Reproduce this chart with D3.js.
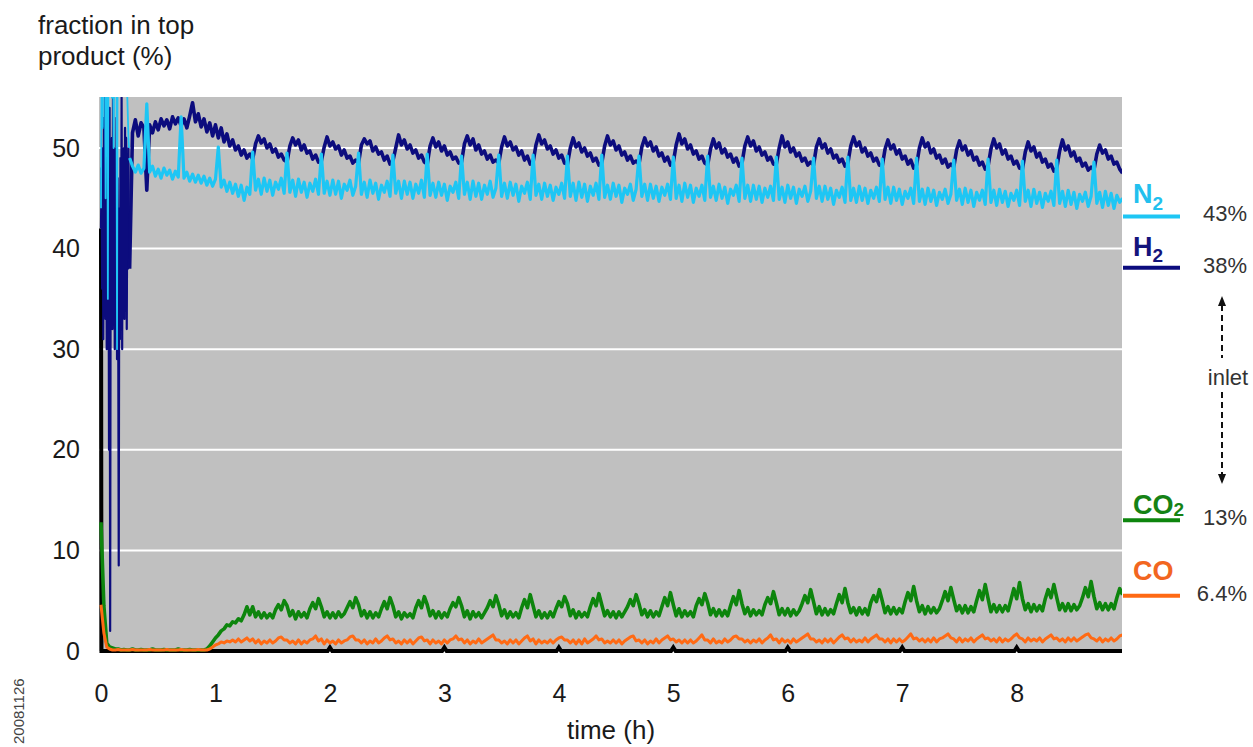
<!DOCTYPE html>
<html>
<head>
<meta charset="utf-8">
<script src="https://d3js.org/d3.v7.min.js"></script>
<style>
    body { margin: 0; background: #fff; }
    svg { display: block; font-family: "Liberation Sans", Arial, sans-serif; }
</style>
</head>
<body>
<script>
    // logger sampling step (hours); the start-up burst was logged faster
    var step = 0.025;
    var burstStep = 0.005;
    var burstEnd = 0.25;

    // H2 and N2 during the start-up burst (0 - 0.245 h)
    var h2Burst = [
        42, 48, 36, 50, 31, 53, 40, 55, 33, 47,
        30, 52, 38, 49, 20, 54, 2, 46, 35, 51,
        32, 56, 37, 50, 30, 48, 34, 53, 29, 47,
        36, 8.5, 44, 31, 49, 35, 55, 30, 48, 38,
        50, 33, 52, 36, 51, 32, 48, 38, 50, 40
    ];
    var n2Burst = [
        44, 58, 60, 52, 61, 57, 60, 59, 45, 60,
        58, 61, 35, 60, 59, 57, 61, 58, 60, 55,
        59, 61, 50, 60, 58, 57, 61, 59, 30, 60,
        58, 61, 59, 60, 57, 61, 58, 59, 60, 56,
        61, 58, 60, 57, 59, 56, 55, 53, 51, 50
    ];

    // H2 in top product (%), from 0.25 h on
    var h2 = [
        38, 51.5, 52.8, 51.2, 52.5, 52.0, 45.8, 52.3, 51.5, 52.6,
        51.8, 52.9, 52.2, 52.8, 51.9, 53.1, 52.4, 53.0, 52.2, 52.9,
        52.0, 53.2, 54.5, 52.6, 53.4, 52.1, 52.9, 51.6, 52.5, 51.2,
        52.3, 51.0, 52.0, 50.6, 51.4, 50.2, 50.8, 49.8, 50.2, 49.3,
        49.8, 49.0, 49.4,
        48.9, 50.4, 51.2, 50.5, 50.9, 50.0, 50.4, 49.6, 49.9, 49.1, 49.4, 48.8,
        48.6, 50.2, 51.0, 50.3, 50.8, 49.8, 50.3, 49.5, 49.7, 48.9, 49.3, 48.6,
        48.7, 50.1, 51.1, 50.2, 50.6, 49.9, 50.2, 49.3, 49.8, 49.0, 49.2, 48.5, 48.8,
        48.5, 50.3, 50.9, 50.4, 50.7, 49.7, 50.1, 49.4, 49.6, 48.8, 49.2, 48.4,
        48.7, 50.0, 51.3, 50.3, 50.8, 49.9, 50.3, 49.5, 49.8, 49.0, 49.3, 48.6,
        48.4, 50.2, 51.0, 50.1, 50.6, 49.7, 50.2, 49.3, 49.6, 48.9, 49.1, 48.5,
        48.6, 50.4, 51.2, 50.3, 50.9, 49.8, 50.3, 49.4, 49.7, 48.9, 49.3, 48.6, 48.8,
        48.5, 50.1, 51.1, 50.2, 50.6, 49.8, 50.1, 49.3, 49.7, 48.8, 49.2, 48.4,
        48.6, 50.3, 51.3, 50.4, 50.8, 49.9, 50.2, 49.4, 49.8, 49.0, 49.3, 48.5,
        48.4, 50.0, 51.0, 50.1, 50.5, 49.6, 50.0, 49.2, 49.5, 48.7, 49.0, 48.3,
        48.5, 50.2, 51.2, 50.3, 50.7, 49.8, 50.2, 49.3, 49.6, 48.8, 49.2, 48.5, 48.7,
        48.4, 50.1, 51.0, 50.2, 50.6, 49.7, 50.1, 49.2, 49.5, 48.7, 49.1, 48.3,
        48.6, 50.3, 51.4, 50.4, 50.9, 49.9, 50.3, 49.4, 49.7, 48.9, 49.2, 48.5,
        48.3, 49.9, 50.9, 50.0, 50.5, 49.5, 49.9, 49.1, 49.4, 48.6, 49.0, 48.2,
        48.5, 50.2, 51.1, 50.2, 50.7, 49.7, 50.1, 49.3, 49.6, 48.8, 49.1, 48.4,
        48.4, 50.0, 51.2, 50.1, 50.6, 49.6, 50.0, 49.2, 49.5, 48.7, 49.0, 48.3, 48.6,
        48.3, 50.1, 50.9, 50.0, 50.4, 49.5, 49.9, 49.0, 49.3, 48.6, 48.9, 48.2,
        48.5, 50.2, 51.1, 50.2, 50.6, 49.6, 50.0, 49.2, 49.5, 48.7, 49.0, 48.3,
        48.2, 49.9, 50.8, 49.9, 50.3, 49.4, 49.8, 48.9, 49.2, 48.4, 48.8, 48.0,
        48.3, 50.0, 51.0, 50.1, 50.5, 49.5, 49.9, 49.0, 49.3, 48.5, 48.9, 48.1, 48.4,
        48.1, 49.8, 50.7, 49.8, 50.2, 49.3, 49.7, 48.8, 49.1, 48.3, 48.6, 47.9,
        48.2, 49.9, 50.9, 50.0, 50.4, 49.4, 49.8, 48.9, 49.2, 48.4, 48.7, 48.0,
        47.9, 49.6, 50.6, 49.7, 50.1, 49.1, 49.5, 48.6, 48.9, 48.1, 48.4, 47.7,
        48.0, 49.7, 50.8, 49.8, 50.2, 49.2, 49.6, 48.7, 49.0, 48.2, 48.5, 47.8, 48.1,
        47.8, 49.4, 50.3, 49.5, 49.8, 48.9, 49.2, 48.4, 48.6, 47.9, 47.5
    ];

    // N2 in top product (%), from 0.25 h on
    var n2 = [
        49, 48.2, 47.6, 48.3, 47.5, 48.0, 54.4, 47.6, 48.2, 47.2,
        47.9, 47.0, 48.0, 47.3, 47.8, 46.9, 47.7, 47.1, 53.1, 47.0,
        47.6, 46.7, 47.4, 46.6, 47.3, 46.5, 47.2, 46.3, 47.0, 46.2,
        46.9, 50.1, 46.1, 46.8, 45.7, 46.6, 45.5, 46.4, 45.2, 46.3,
        44.8, 46.1, 45.4,
        49.6, 45.8, 46.9, 45.4, 47.0, 45.7, 46.8, 45.3, 46.6, 45.9, 47.0, 45.5,
        49.5, 45.6, 46.8, 45.2, 46.9, 45.6, 46.6, 45.1, 46.5, 45.7, 46.9, 45.4,
        49.4, 45.5, 46.7, 45.3, 46.8, 45.4, 46.7, 45.0, 46.4, 45.8, 46.8, 45.3, 46.2,
        49.5, 45.4, 46.6, 45.1, 46.8, 45.5, 46.5, 44.9, 46.3, 45.6, 46.7, 45.2,
        49.3, 45.5, 46.7, 45.0, 46.7, 45.4, 46.6, 45.0, 46.4, 45.5, 46.8, 45.1,
        49.4, 45.3, 46.5, 45.1, 46.6, 45.3, 46.4, 44.8, 46.2, 45.6, 46.6, 45.0,
        49.2, 45.4, 46.6, 44.9, 46.7, 45.2, 46.5, 44.9, 46.3, 45.4, 46.7, 45.1, 46.0,
        49.3, 45.2, 46.5, 45.0, 46.6, 45.3, 46.4, 44.7, 46.2, 45.5, 46.6, 44.9,
        49.3, 45.3, 46.4, 44.9, 46.5, 45.2, 46.3, 44.8, 46.1, 45.4, 46.5, 45.0,
        49.2, 45.2, 46.5, 44.8, 46.6, 45.1, 46.4, 44.7, 46.2, 45.3, 46.5, 44.9,
        49.3, 45.1, 46.3, 44.9, 46.5, 45.2, 46.3, 44.6, 46.0, 45.4, 46.4, 44.8, 45.9,
        49.2, 45.2, 46.4, 44.8, 46.4, 45.0, 46.2, 44.7, 46.1, 45.3, 46.4, 44.9,
        49.1, 45.0, 46.3, 44.7, 46.5, 45.1, 46.3, 44.6, 46.0, 45.2, 46.3, 44.8,
        49.2, 45.1, 46.2, 44.8, 46.4, 45.0, 46.1, 44.5, 45.9, 45.3, 46.3, 44.7,
        49.0, 45.0, 46.3, 44.7, 46.3, 44.9, 46.2, 44.6, 46.0, 45.1, 46.2, 44.8,
        49.1, 44.9, 46.1, 44.6, 46.3, 45.0, 46.1, 44.5, 45.9, 45.2, 46.2, 44.7, 45.7,
        49.0, 45.0, 46.2, 44.7, 46.2, 44.9, 46.0, 44.4, 45.8, 45.1, 46.1, 44.6,
        49.1, 44.8, 46.0, 44.6, 46.2, 44.8, 46.0, 44.5, 45.8, 45.0, 46.1, 44.7,
        48.9, 44.9, 46.1, 44.5, 46.1, 44.8, 45.9, 44.4, 45.7, 45.0, 46.0, 44.5,
        49.0, 44.7, 45.9, 44.4, 46.0, 44.7, 45.8, 44.3, 45.6, 44.9, 45.9, 44.5, 45.4,
        48.8, 44.8, 45.9, 44.4, 46.0, 44.6, 45.8, 44.2, 45.6, 44.8, 45.8, 44.4,
        48.9, 44.6, 45.8, 44.3, 45.9, 44.6, 45.7, 44.2, 45.5, 44.8, 45.8, 44.3,
        48.7, 44.7, 45.8, 44.2, 45.9, 44.5, 45.6, 44.1, 45.5, 44.7, 45.7, 44.3,
        48.8, 44.5, 45.7, 44.2, 45.8, 44.4, 45.6, 44.0, 45.4, 44.7, 45.6, 44.2, 45.2,
        48.6, 44.5, 45.6, 44.1, 45.7, 44.3, 45.5, 44.0, 45.3, 44.6, 45.0
    ];

    // CO2 in top product (%), from 0 h on
    var co2 = [
        12.8, 4.5, 0.8, 0.4, 0.3, 0.2, 0.2,
        0.1, 0.15, 0.1, 0.1, 0.2, 0.1, 0.1, 0.15, 0.1, 0.1,
        0.1, 0.2, 0.1, 0.1, 0.1, 0.15, 0.1, 0.1, 0.1, 0.1,
        0.2, 0.1, 0.1, 0.1, 0.15, 0.1, 0.1, 0.1, 0.1, 0.1,
        0.2, 0.5, 0.9, 1.3, 1.6, 2.0, 2.2, 2.6, 2.5, 2.9, 2.8, 3.2, 3.0, 3.6, 4.4, 3.6,
        4.4, 3.4, 3.9, 3.3, 3.8, 3.3, 3.7, 3.3, 4.1, 4.6, 4.1, 5.0,
        4.5, 3.5, 4.0, 3.2, 3.9, 3.4, 3.8, 3.3, 4.2, 4.8, 4.2, 5.2,
        4.4, 3.4, 3.9, 3.3, 3.8, 3.3, 3.9, 3.4, 3.7, 4.3, 4.9, 4.3, 5.3,
        4.6, 3.5, 4.0, 3.3, 3.9, 3.3, 3.8, 3.4, 4.2, 4.9, 4.2, 5.3,
        4.5, 3.4, 3.9, 3.2, 3.8, 3.4, 3.7, 3.3, 4.3, 5.0, 4.3, 5.4,
        4.6, 3.5, 4.0, 3.3, 3.9, 3.3, 3.8, 3.4, 4.2, 4.8, 4.4, 5.3,
        4.5, 3.4, 4.0, 3.2, 3.9, 3.4, 3.8, 3.3, 3.8, 4.3, 5.0, 4.4, 5.5,
        4.6, 3.5, 4.1, 3.3, 3.9, 3.4, 3.8, 3.3, 4.3, 5.1, 4.3, 5.6,
        4.5, 3.4, 4.0, 3.3, 3.8, 3.3, 3.9, 3.4, 4.2, 4.9, 4.4, 5.4,
        4.7, 3.5, 4.1, 3.3, 3.9, 3.4, 3.8, 3.4, 4.4, 5.2, 4.5, 5.7,
        4.6, 3.5, 4.0, 3.4, 3.9, 3.3, 3.9, 3.4, 3.9, 4.4, 5.1, 4.5, 5.6,
        4.7, 3.6, 4.1, 3.4, 4.0, 3.4, 3.9, 3.5, 4.4, 5.3, 4.5, 5.8,
        4.6, 3.5, 4.2, 3.4, 4.0, 3.5, 3.9, 3.4, 4.5, 5.2, 4.6, 5.7,
        4.8, 3.6, 4.2, 3.5, 4.1, 3.5, 4.0, 3.5, 4.5, 5.4, 4.6, 6.0,
        4.7, 3.7, 4.3, 3.5, 4.1, 3.6, 4.0, 3.6, 4.6, 5.3, 4.7, 5.9,
        4.8, 3.6, 4.2, 3.6, 4.2, 3.5, 4.1, 3.6, 4.0, 4.7, 5.5, 4.8, 6.1,
        4.9, 3.7, 4.4, 3.6, 4.2, 3.6, 4.1, 3.7, 4.7, 5.6, 4.8, 6.2,
        4.8, 3.8, 4.3, 3.6, 4.3, 3.7, 4.2, 3.6, 4.8, 5.5, 4.9, 6.1,
        5.0, 3.8, 4.4, 3.7, 4.3, 3.7, 4.2, 3.8, 4.9, 5.8, 5.0, 6.4,
        5.0, 3.9, 4.5, 3.7, 4.4, 3.8, 4.3, 3.8, 4.2, 5.0, 5.9, 5.0, 6.3,
        5.1, 4.0, 4.5, 3.8, 4.5, 3.8, 4.4, 3.9, 5.0, 6.0, 5.1, 6.6,
        5.2, 3.9, 4.6, 3.9, 4.5, 3.9, 4.5, 4.0, 5.1, 6.2, 5.2, 6.8,
        5.2, 4.1, 4.7, 3.9, 4.6, 4.0, 4.5, 4.0, 5.2, 6.1, 5.3, 6.6,
        5.3, 4.1, 4.7, 4.0, 4.7, 4.0, 4.6, 4.1, 4.5, 5.3, 6.3, 5.4, 6.9,
        5.4, 4.2, 4.8, 4.1, 4.7, 4.1, 4.7, 4.2, 5.3, 6.2, 5.6
    ];

    // CO in top product (%), from 0 h on
    var co = [
        4.6, 1.8, 0.4, 0.2,
        0.1, 0.1, 0.15, 0.1, 0.1, 0.1, 0.1, 0.15, 0.1, 0.1,
        0.1, 0.1, 0.1, 0.15, 0.1, 0.1, 0.1, 0.1, 0.1, 0.15,
        0.1, 0.1, 0.1, 0.1, 0.15, 0.1, 0.1, 0.1, 0.1, 0.1,
        0.15, 0.1, 0.1, 0.1,
        0.2, 0.4, 0.6, 0.7, 0.9, 0.8, 1.0, 0.9, 1.1, 0.9, 1.2, 0.9, 1.1, 1.3, 1.0,
        1.2, 0.8, 1.1, 0.7, 1.0, 0.8, 1.1, 0.8, 1.0, 1.3, 1.4, 1.1,
        1.1, 0.8, 1.0, 0.7, 1.1, 0.7, 1.0, 0.8, 1.1, 1.2, 1.5, 1.0,
        1.2, 0.7, 1.1, 0.8, 1.0, 0.7, 1.1, 0.8, 1.0, 1.1, 1.4, 1.5, 1.1,
        1.1, 0.8, 1.1, 0.7, 1.0, 0.8, 1.2, 0.8, 1.0, 1.3, 1.5, 1.1,
        1.2, 0.8, 1.0, 0.7, 1.1, 0.8, 1.1, 0.7, 1.0, 1.3, 1.4, 1.0,
        1.1, 0.7, 1.1, 0.8, 1.0, 0.7, 1.1, 0.8, 1.1, 1.2, 1.5, 1.1,
        1.2, 0.8, 1.1, 0.7, 1.0, 0.8, 1.2, 0.8, 1.0, 1.2, 1.4, 1.6, 1.1,
        1.1, 0.8, 1.0, 0.7, 1.1, 0.8, 1.1, 0.7, 1.0, 1.3, 1.5, 1.0,
        1.2, 0.7, 1.1, 0.8, 1.0, 0.8, 1.1, 0.8, 1.1, 1.3, 1.4, 1.1,
        1.1, 0.8, 1.1, 0.7, 1.1, 0.7, 1.2, 0.8, 1.0, 1.2, 1.5, 1.1,
        1.2, 0.8, 1.0, 0.8, 1.1, 0.8, 1.1, 0.7, 1.0, 1.2, 1.4, 1.5, 1.0,
        1.1, 0.8, 1.1, 0.7, 1.0, 0.8, 1.2, 0.8, 1.1, 1.3, 1.5, 1.1,
        1.2, 0.9, 1.1, 0.8, 1.1, 0.8, 1.1, 0.8, 1.0, 1.3, 1.6, 1.1,
        1.1, 0.8, 1.2, 0.8, 1.0, 0.8, 1.2, 0.9, 1.1, 1.4, 1.5, 1.2,
        1.2, 0.9, 1.1, 0.8, 1.1, 0.9, 1.2, 0.8, 1.1, 1.3, 1.6, 1.1,
        1.2, 0.8, 1.2, 0.9, 1.1, 0.8, 1.2, 0.9, 1.1, 1.3, 1.5, 1.7, 1.2,
        1.2, 0.9, 1.1, 0.8, 1.2, 0.9, 1.2, 0.8, 1.1, 1.4, 1.6, 1.2,
        1.3, 0.9, 1.2, 0.9, 1.1, 0.9, 1.3, 0.9, 1.2, 1.4, 1.6, 1.2,
        1.2, 0.9, 1.2, 0.8, 1.2, 0.9, 1.2, 0.9, 1.1, 1.4, 1.7, 1.2,
        1.3, 1.0, 1.2, 0.9, 1.2, 0.9, 1.3, 0.9, 1.2, 1.3, 1.5, 1.7, 1.3,
        1.2, 0.9, 1.3, 0.9, 1.2, 1.0, 1.3, 0.9, 1.2, 1.4, 1.6, 1.2,
        1.3, 1.0, 1.2, 0.9, 1.3, 0.9, 1.2, 1.0, 1.2, 1.5, 1.7, 1.3,
        1.2, 0.9, 1.3, 1.0, 1.2, 1.0, 1.3, 0.9, 1.2, 1.4, 1.6, 1.2,
        1.3, 1.0, 1.2, 0.9, 1.3, 1.0, 1.3, 1.0, 1.2, 1.4, 1.6, 1.7, 1.3,
        1.2, 1.0, 1.3, 0.9, 1.2, 1.0, 1.3, 1.0, 1.2, 1.5, 1.6
    ];

    // black trace lying on the baseline (time h, value %)
    var baseTimes  = [0, 0.004, 1.98, 2.0, 2.02, 2.98, 3.0, 3.02, 3.98, 4.0, 4.02, 4.98, 5.0, 5.02,
                      5.98, 6.0, 6.02, 6.98, 7.0, 7.02, 7.98, 8.0, 8.02, 8.92];
    var baseValues = [42, 0, 0, 0.35, 0, 0, 0.35, 0, 0, 0.35, 0, 0, 0.35, 0,
                      0, 0.35, 0, 0, 0.35, 0, 0, 0.35, 0, 0];

    var xTicks = [0, 1, 2, 3, 4, 5, 6, 7, 8];
    var yTicks = [0, 10, 20, 30, 40, 50];

    // inlet composition, marked at the right side
    var gasBase = ["N", "H", "CO", "CO"];
    var gasSub = ["2", "2", "2", ""];
    var inletLevels = [43.2, 38.1, 13.0, 5.5];
    var inletLabels = ["43%", "38%", "13%", "6.4%"];

    var gasColors = ["#1ec6f4", "#0c0c7e", "#0d850d", "#ff6a14"];
    var labelColors = ["#22c0ee", "#14147c", "#158215", "#f2661f"];
    var labelDy = [-13, -12, -6, -16];
    var subDy = [7, 6, 2, 0];

    var w = 1253;
    var h = 747;

    var svg = d3.select("body")
                .append("svg")
                .attr("width", w)
                .attr("height", h);

    var x = d3.scaleLinear().domain([0, 8.92]).range([101, 1122]);
    var y = d3.scaleLinear().domain([0, 55]).range([651, 97.7]);

    // plot background
    svg.append("rect")
        .attr("x", 99).attr("y", 97)
        .attr("width", 1023).attr("height", 554)
        .attr("fill", "#c0c0c0");

    svg.append("clipPath").attr("id", "plotclip")
        .append("rect")
        .attr("x", 99).attr("y", 97)
        .attr("width", 1023).attr("height", 556);

    svg.selectAll("line.grid")
        .data(yTicks.filter(function(d) { return d > 0; }))
        .enter()
        .append("line")
        .attr("class", "grid")
        .attr("x1", 99).attr("x2", 1122)
        .attr("y1", function(d) { return y(d); })
        .attr("y2", function(d) { return y(d); })
        .attr("stroke", "#fff")
        .attr("stroke-width", 2);

    var plot = svg.append("g").attr("clip-path", "url(#plotclip)");

    var baseLine = d3.line()
        .x(function(d, i) { return x(baseTimes[i]); })
        .y(function(d) { return y(d); });

    plot.append("path")
        .attr("d", baseLine(baseValues))
        .attr("fill", "none")
        .attr("stroke", "#000")
        .attr("stroke-width", 4);

    function lineFrom(t0, dt) {
        return d3.line()
            .x(function(d, i) { return x(t0 + i * dt); })
            .y(function(d) { return y(d); });
    }

    var series = [
        { v: h2Burst, t0: 0, dt: burstStep, c: gasColors[1], sw: 2.2 },
        { v: h2, t0: burstEnd, dt: step, c: gasColors[1], sw: 3.6 },
        { v: n2Burst, t0: 0, dt: burstStep, c: gasColors[0], sw: 1.8 },
        { v: n2, t0: burstEnd, dt: step, c: gasColors[0], sw: 3.2 },
        { v: co2, t0: 0, dt: step, c: gasColors[2], sw: 3.6 },
        { v: co, t0: 0, dt: step, c: gasColors[3], sw: 3 }
    ];

    plot.selectAll("path.gas")
        .data(series)
        .enter()
        .append("path")
        .attr("class", "gas")
        .attr("d", function(d) { return lineFrom(d.t0, d.dt)(d.v); })
        .attr("fill", "none")
        .attr("stroke", function(d) { return d.c; })
        .attr("stroke-width", function(d) { return d.sw; })
        .attr("stroke-linejoin", "round");

    // axes
    var yAxis = svg.append("g")
        .attr("transform", "translate(99,0)")
        .call(d3.axisLeft(y).tickValues(yTicks).tickSize(0).tickPadding(19));
    var xAxis = svg.append("g")
        .attr("transform", "translate(0,651)")
        .call(d3.axisBottom(x).tickValues(xTicks).tickSize(0).tickPadding(33));

    [yAxis, xAxis].forEach(function(a) {
        a.select(".domain").remove();
        a.selectAll("text")
            .attr("font-size", 25)
            .attr("font-family", "Liberation Sans, Arial, sans-serif")
            .attr("fill", "#1a1a1a");
    });

    svg.append("text")
        .attr("x", 611).attr("y", 739)
        .attr("text-anchor", "middle")
        .attr("font-size", 26).attr("fill", "#1a1a1a")
        .text("time (h)");

    svg.append("text")
        .attr("x", 38).attr("y", 34)
        .attr("font-size", 26).attr("fill", "#1a1a1a")
        .text("fraction in top");
    svg.append("text")
        .attr("x", 38).attr("y", 65)
        .attr("font-size", 26).attr("fill", "#1a1a1a")
        .text("product (%)");

    // inlet markers
    var legend = svg.selectAll("g.inlet")
        .data(inletLevels)
        .enter()
        .append("g")
        .attr("class", "inlet");

    legend.append("line")
        .attr("x1", 1123).attr("x2", 1180)
        .attr("y1", function(d) { return y(d); })
        .attr("y2", function(d) { return y(d); })
        .attr("stroke", function(d, i) { return gasColors[i]; })
        .attr("stroke-width", 4);

    var lab = legend.append("text")
        .attr("x", 1133)
        .attr("y", function(d, i) { return y(d) + labelDy[i]; })
        .attr("font-size", 27)
        .attr("font-weight", "bold")
        .attr("fill", function(d, i) { return labelColors[i]; });
    lab.append("tspan").text(function(d, i) { return gasBase[i]; });
    lab.append("tspan")
        .attr("font-size", 19)
        .attr("dy", function(d, i) { return subDy[i]; })
        .text(function(d, i) { return gasSub[i]; });

    legend.append("text")
        .attr("x", 1247)
        .attr("y", function(d) { return y(d) + 5; })
        .attr("text-anchor", "end")
        .attr("font-size", 22)
        .attr("fill", "#333")
        .text(function(d, i) { return inletLabels[i]; });

    // dotted double arrow around "inlet"
    var ax = 1222;
    svg.append("line")
        .attr("x1", ax).attr("x2", ax).attr("y1", 305).attr("y2", 358)
        .attr("stroke", "#111").attr("stroke-width", 2)
        .attr("stroke-dasharray", "6,4");
    svg.append("line")
        .attr("x1", ax).attr("x2", ax).attr("y1", 392).attr("y2", 475)
        .attr("stroke", "#111").attr("stroke-width", 2)
        .attr("stroke-dasharray", "6,4");
    svg.append("path")
        .attr("d", "M" + ax + ",296 L" + (ax - 4) + ",306 L" + (ax + 4) + ",306 Z")
        .attr("fill", "#111");
    svg.append("path")
        .attr("d", "M" + ax + ",484 L" + (ax - 4) + ",474 L" + (ax + 4) + ",474 Z")
        .attr("fill", "#111");
    svg.append("text")
        .attr("x", 1228).attr("y", 385)
        .attr("text-anchor", "middle")
        .attr("font-size", 22).attr("fill", "#333")
        .text("inlet");

    svg.append("text")
        .attr("transform", "translate(24,744) rotate(-90)")
        .attr("font-size", 15).attr("fill", "#444")
        .text("20081126");
</script>
</body>
</html>
